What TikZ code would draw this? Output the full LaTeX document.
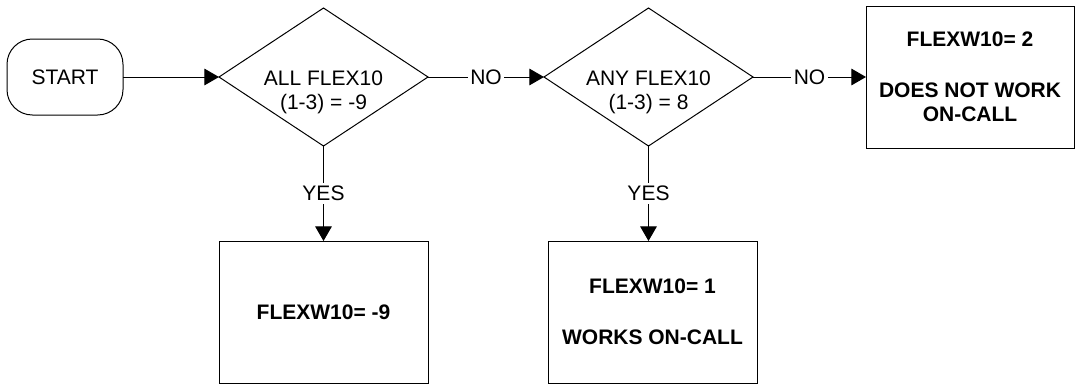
\documentclass[tikz,border=0pt]{standalone}
\usepackage{fontspec}
\setmainfont{Liberation Sans}
\usetikzlibrary{shapes.geometric, arrows.meta}

\begin{document}
\begin{tikzpicture}[x=0.75pt, y=-0.75pt, line width=0.75pt,
    >={Triangle[length=11pt, width=12.5pt]},
    txt/.style={font=\fontsize{15.75}{18}\selectfont, align=center, inner sep=0pt},
    startbox/.style={txt, draw, rounded corners=19pt, minimum width=87pt, minimum height=57pt, outer sep=0pt},
    decision/.style={draw, diamond, minimum width=156.75pt, minimum height=103.5pt, inner sep=0pt, outer sep=0pt},
    resultbox/.style={txt, draw, font=\fontsize{15.75}{18}\selectfont\bfseries, minimum width=156.75pt, minimum height=106.5pt, outer sep=0pt},
    answer/.style={txt, fill=white, inner sep=2pt}]
    \useasboundingbox (0,0) rectangle (1079,390);

    % Start and the two questions
    \node[startbox] (start) at (65,77) {START};
    \node[decision] (all) at (323.5,77) {};
    \node[txt, anchor=north] (alltxt) at (323.5,70) {ALL FLEX10\\(1-3) = -9};
    \node[decision] (any) at (648.5,77) {};
    \node[txt, anchor=north] (anytxt) at (648.5,70) {ANY FLEX10\\(1-3) = 8};

    % Results
    \node[resultbox] (minus9) at (323.5,312) {FLEXW10= -9};
    \node[resultbox] (one) at (652.5,312) {FLEXW10= 1\\[20pt]WORKS ON-CALL};
    \node[resultbox, minimum width=156pt] (two) at (970,77) {FLEXW10= 2\\[20pt]DOES NOT WORK\\ON-CALL};

    % Connectors
    \draw[->] (start) -- (all);
    \draw[->] (all) -- node[answer] (no1) {NO} (any);
    \draw[->] (any) -- node[answer] (no2) {NO} (two);
    \draw[->] (all) -- node[answer] (yes1) {YES} (minus9);
    \draw[->] (any.south) -- node[answer] (yes2) {YES} (any.south |- one.north);
\end{tikzpicture}
\end{document}
